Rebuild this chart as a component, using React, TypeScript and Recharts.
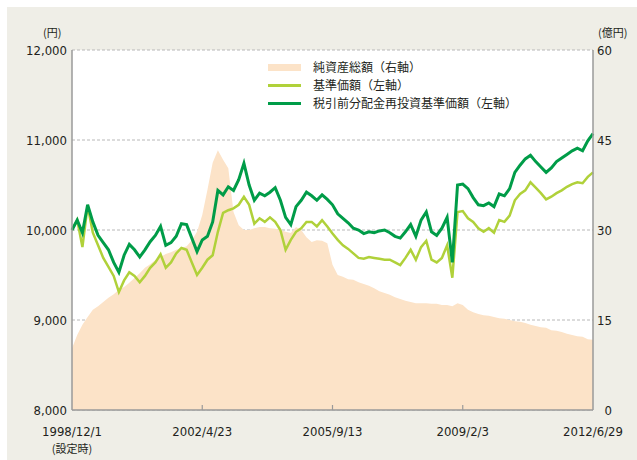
import { ComposedChart, Area, Line, XAxis, YAxis, CartesianGrid, Legend } from "recharts";

// 税引前分配金再投資基準価額 (left axis, 円)
const REINVESTED = [
  10000, 10110, 9970, 10280, 10090, 9940, 9860, 9780, 9640, 9530,
  9720, 9840, 9780, 9700, 9780, 9870, 9940, 10040, 9830, 9860,
  9930, 10070, 10060, 9910, 9760, 9890, 9930, 10090, 10440, 10390,
  10480, 10440, 10560, 10740, 10500, 10330, 10410, 10380, 10420, 10470,
  10330, 10140, 10060, 10260, 10330, 10420, 10380, 10330, 10390, 10340,
  10280, 10180, 10130, 10080, 10020, 10000, 9960, 9980, 9970, 9990,
  10000, 9970, 9930, 9910, 9980, 10060, 9930, 10110, 10200, 9980,
  9940, 10020, 10140, 9640, 10500, 10510, 10460, 10360, 10280, 10270,
  10300, 10260, 10400, 10380, 10460, 10640, 10720, 10790, 10830, 10760,
  10700, 10640, 10690, 10760, 10800, 10840, 10880, 10910, 10880, 10990,
  11070,
];

// 基準価額 (left axis, 円)
const NAV = [
  10000, 10110, 9810, 10270, 9970, 9830, 9690, 9590, 9490, 9310,
  9440, 9530, 9490, 9420, 9490, 9580, 9640, 9730, 9580, 9640,
  9740, 9800, 9780, 9640, 9500, 9580, 9670, 9720, 9980, 10190,
  10220, 10240, 10280, 10370, 10280, 10070, 10130, 10090, 10140, 10090,
  10000, 9780, 9890, 9980, 10020, 10090, 10090, 10040, 10110, 10040,
  9960, 9890, 9830, 9790, 9740, 9690, 9680, 9700, 9690, 9680,
  9670, 9670, 9640, 9610, 9690, 9780, 9670, 9810, 9880, 9670,
  9640, 9690, 9830, 9470, 10200, 10210, 10130, 10090, 10020, 9980,
  10020, 9970, 10110, 10090, 10160, 10330, 10400, 10440, 10530, 10470,
  10410, 10340, 10370, 10410, 10440, 10480, 10510, 10530, 10520, 10590,
  10640,
];

// 純資産総額 (right axis, 億円)
const ASSETS = [
  10.3, 12.5, 14.2, 15.5, 16.7, 17.3, 18, 18.7, 19.3, 20,
  20.5, 21.2, 22, 22.8, 23.7, 24.3, 25, 25.5, 26, 26.3,
  26.7, 27, 27.3, 28.3, 29.7, 32.5, 36.7, 41.2, 43.3, 41.7,
  40.3, 33, 30.8, 30, 30, 30.3, 30.5, 30.5, 30.3, 30.2,
  30, 29.7, 29.5, 30.5, 30, 28.8, 28, 28.3, 28.2, 27.8,
  24.2, 22.5, 22.2, 21.8, 21.7, 21.3, 21, 20.7, 20.3, 19.8,
  19.5, 19.2, 18.8, 18.5, 18.2, 18, 17.8, 17.8, 17.8, 17.7,
  17.7, 17.5, 17.5, 17.3, 17.8, 17.5, 16.7, 16.3, 16, 15.8,
  15.7, 15.5, 15.3, 15.2, 15, 14.8, 14.7, 14.5, 14.2, 14,
  13.8, 13.7, 13.3, 13.2, 13, 12.7, 12.5, 12.3, 12.2, 11.8,
  11.7,
];

const X_TICKS = [0, 25, 50, 75, 100];
const X_LABELS = ["1998/12/1", "2002/4/23", "2005/9/13", "2009/2/3", "2012/6/29"];
const LEFT_TICKS = [8000, 9000, 10000, 11000, 12000];
const RIGHT_TICKS = [0, 15, 30, 45, 60];

const C_AREA = "#fce3c8";
const C_NAV = "#b0d13a";
const C_REINV = "#009c48";
const AXIS = "#9a9a9a";
const NUM_FONT = "'DejaVu Sans Condensed', 'DejaVu Sans', sans-serif";
const JP_FONT = "'Noto Sans CJK JP', sans-serif";

const LEGEND = [
  { label: "純資産総額（右軸）", color: C_AREA, h: 7 },
  { label: "基準価額（左軸）", color: C_NAV, h: 3 },
  { label: "税引前分配金再投資基準価額（左軸）", color: C_REINV, h: 3 },
];

const data = REINVESTED.map((v, i) => ({ i, reinv: v, nav: NAV[i], assets: ASSETS[i] }));

const XTick = (props: any) => {
  const { x, y, payload } = props;
  const k = X_TICKS.indexOf(payload.value);
  return (
    <g>
      {k > 0 && k < 4 && <line x1={x} x2={x} y1={y - 5} y2={y} stroke={AXIS} strokeWidth={1.2} />}
      <text x={x} y={y + 26} textAnchor="middle" fontSize={13} fontFamily={NUM_FONT} fill="#231f20">
        {X_LABELS[k]}
      </text>
      {k === 0 && (
        <text x={x} y={y + 43} textAnchor="middle" fontSize={11} fontFamily={JP_FONT} fill="#231f20">
          (設定時)
        </text>
      )}
    </g>
  );
};

const LeftTick = (props: any) => {
  const { x, y, payload } = props;
  return (
    <text x={x - 5} y={y + 4.5} textAnchor="end" fontSize={13} fontFamily={NUM_FONT} fill="#231f20">
      {payload.value.toLocaleString("en-US")}
    </text>
  );
};

const RightTick = (props: any) => {
  const { x, y, payload } = props;
  return (
    <text x={x + 19} y={y + 4.5} textAnchor="end" fontSize={13} fontFamily={NUM_FONT} fill="#231f20">
      {payload.value}
    </text>
  );
};

const renderLegend = () => (
  <div style={{ fontFamily: JP_FONT, fontSize: 12, color: "#231f20", lineHeight: "18px" }}>
    {LEGEND.map((l) => (
      <div key={l.label} style={{ display: "flex", alignItems: "center", whiteSpace: "nowrap" }}>
        <span style={{ width: 33, height: l.h, background: l.color, marginRight: 12, display: "inline-block" }} />
        {l.label}
      </div>
    ))}
  </div>
);

export default function App() {
  return (
    <div style={{ position: "absolute", left: 0, top: 0, width: 637, height: 460, background: "#fff" }}>
      <div style={{ position: "absolute", left: 7, top: 7, right: 0, bottom: 0, background: "#efeee7" }} />
      <div style={{ position: "absolute", left: 43, top: 24, fontFamily: JP_FONT, fontSize: 11, color: "#231f20" }}>(円)</div>
      <div style={{ position: "absolute", left: 598, top: 24, fontFamily: JP_FONT, fontSize: 11, color: "#231f20" }}>(億円)</div>
      <div style={{ position: "absolute", left: 0, top: 0 }}>
        <ComposedChart width={637} height={460} data={data} margin={{ top: 50, right: 0, bottom: 0, left: 0 }}>
          <CartesianGrid yAxisId="left" vertical={false} strokeDasharray="3 2" stroke="#b8b8b8" fill="#fff" />
          <XAxis
            dataKey="i"
            type="number"
            domain={[0, 100]}
            ticks={X_TICKS}
            height={50}
            tickSize={0}
            tickMargin={0}
            tickLine={false}
            tick={<XTick />}
            axisLine={{ stroke: AXIS, strokeWidth: 1.5 }}
          />
          <YAxis
            yAxisId="left"
            orientation="left"
            width={72}
            domain={[8000, 12000]}
            ticks={LEFT_TICKS}
            tickSize={0}
            tickMargin={0}
            tickLine={false}
            tick={<LeftTick />}
            axisLine={{ stroke: AXIS, strokeWidth: 1.5 }}
          />
          <YAxis
            yAxisId="right"
            orientation="right"
            width={44}
            domain={[0, 60]}
            ticks={RIGHT_TICKS}
            tickSize={0}
            tickMargin={0}
            tickLine={false}
            tick={<RightTick />}
            axisLine={{ stroke: AXIS, strokeWidth: 1.5 }}
          />
          <Area
            yAxisId="right"
            type="linear"
            dataKey="assets"
            fill={C_AREA}
            fillOpacity={1}
            stroke="none"
            isAnimationActive={false}
          />
          <Line yAxisId="left" type="linear" dataKey="nav" stroke={C_NAV} strokeWidth={2.5} dot={false} isAnimationActive={false} />
          <Line yAxisId="left" type="linear" dataKey="reinv" stroke={C_REINV} strokeWidth={3} dot={false} isAnimationActive={false} />
          <Legend
            layout="vertical"
            align="center"
            verticalAlign="middle"
            content={renderLegend}
            wrapperStyle={{ position: "absolute", left: 268, top: 58, width: "auto" }}
          />
        </ComposedChart>
      </div>
    </div>
  );
}
